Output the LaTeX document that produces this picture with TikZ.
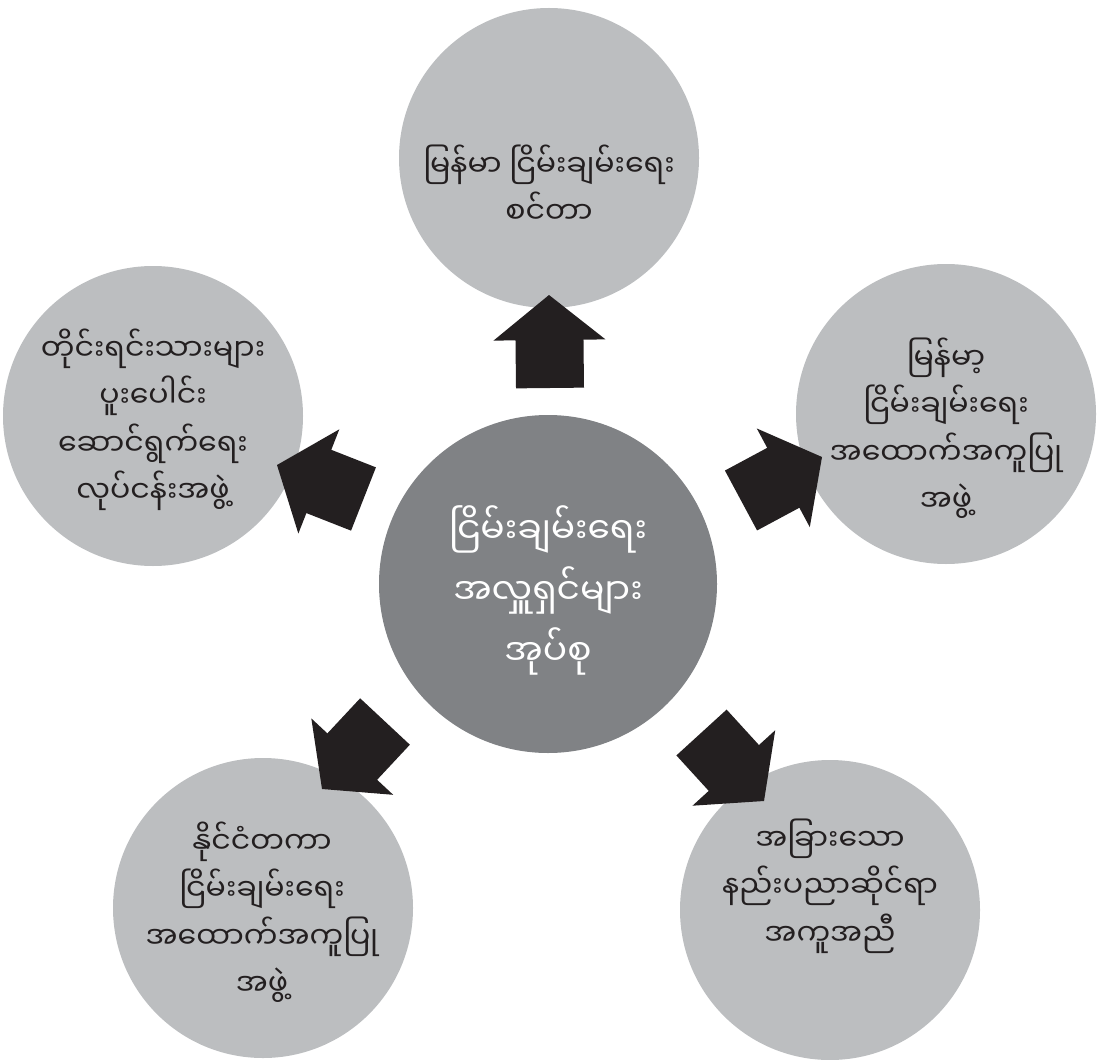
\documentclass[tikz,border=0pt]{standalone}
\usepackage{fontspec}
\usetikzlibrary{calc}
\newfontfamily\mmfont[Script=Myanmar]{Noto Sans Myanmar UI}
\definecolor{outergray}{RGB}{188,190,192}
\definecolor{centergray}{RGB}{128,130,133}
\definecolor{arrowblack}{RGB}{35,31,32}
\newcommand\drawblockarrow[2]{%
  \fill[blockarrow] ($(#1)!34pt!90:(#2)$)
    -- ($(#1)!48pt!(#2)!34pt!90:(#2)$)
    -- ($(#1)!48pt!(#2)!56pt!90:(#2)$)
    -- (#2)
    -- ($(#1)!48pt!(#2)!56pt!-90:(#2)$)
    -- ($(#1)!48pt!(#2)!34pt!-90:(#2)$)
    -- ($(#1)!34pt!-90:(#2)$) -- cycle;}
\begin{document}
\begin{tikzpicture}[x=1pt,y=-1pt,
  outer/.style={circle, fill=outergray, minimum size=300pt, inner sep=0pt},
  hub/.style={circle, fill=centergray, minimum size=338pt, inner sep=0pt},
  outertext/.style={align=center, text=arrowblack, inner sep=0pt,
    font=\mmfont\fontsize{30}{47.5}\selectfont},
  hubtext/.style={align=center, text=white, inner sep=0pt,
    font=\mmfont\fontsize{36}{61}\selectfont},
  blockarrow/.style={fill=arrowblack}]
\useasboundingbox (0,0) rectangle (1099,1059);
% circles
\node[hub] (hubc) at (548,584) {};
\node[outer] (ctop) at (549,158) {};
\node[outer] (cleft) at (153,416) {};
\node[outer] (cright) at (946,414) {};
\node[outer] (cbl) at (263,908) {};
\node[outer] (cbr) at (830,910) {};
% arrow end points
\coordinate (topB) at (550,388);   \coordinate (topT) at (549,295);
\coordinate (leftB) at (363.5,499); \coordinate (leftT) at (277,465);
\coordinate (rightB) at (741,500.5); \coordinate (rightT) at (822,457);
\coordinate (blB) at (385,721.5);  \coordinate (blT) at (322,789);
\coordinate (brB) at (701.5,732.5); \coordinate (brT) at (764,801);
\drawblockarrow{topB}{topT}
\drawblockarrow{leftB}{leftT}
\drawblockarrow{rightB}{rightT}
\drawblockarrow{blB}{blT}
\drawblockarrow{brB}{brT}
% texts
\node[hubtext] (thub) at (548,590) {ငြိမ်းချမ်းရေး\\အလှူရှင်များ\\အုပ်စု};
\node[outertext] (ttop) at (549,184) {မြန်မာ ငြိမ်းချမ်းရေး\\စင်တာ};
\node[outertext] (tleft) at (153,420) {တိုင်းရင်းသားများ\\ပူးပေါင်း\\ဆောင်ရွက်ရေး\\လုပ်ငန်းအဖွဲ့};
\node[outertext] (tright) at (946,428) {မြန်မာ့\\ငြိမ်းချမ်းရေး\\အထောက်အကူပြု\\အဖွဲ့};
\node[outertext] (tbl) at (262,912) {နိုင်ငံတကာ\\ငြိမ်းချမ်းရေး\\အထောက်အကူပြု\\အဖွဲ့};
\node[outertext] (tbr) at (830,886) {အခြားသော\\နည်းပညာဆိုင်ရာ\\အကူအညီ};
\end{tikzpicture}
\end{document}
